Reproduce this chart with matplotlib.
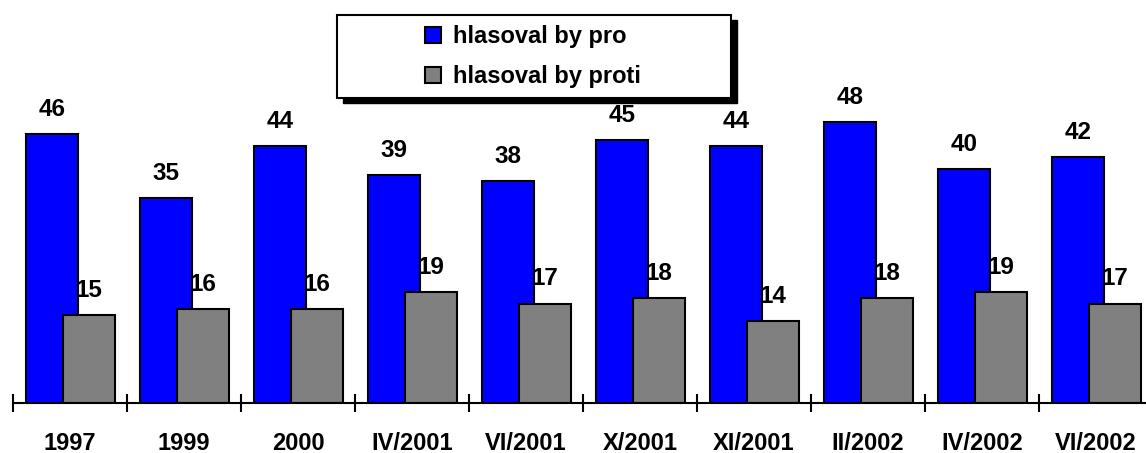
import matplotlib.pyplot as plt
from matplotlib.patches import Rectangle, Patch

plt.rcParams['font.family'] = ['Liberation Sans', 'DejaVu Sans']
plt.rcParams['font.weight'] = 'bold'

# data
categories = ['1997', '1999', '2000', 'IV/2001', 'VI/2001', 'X/2001',
              'XI/2001', 'II/2002', 'IV/2002', 'VI/2002']
pro = [46, 35, 44, 39, 38, 45, 44, 48, 40, 42]
proti = [15, 16, 16, 19, 17, 18, 14, 18, 19, 17]
series_names = ['hlasoval by pro', 'hlasoval by proti']

BLUE = '#0000FF'
GREY = '#808080'

W, H = 1146, 453
fig = plt.figure(figsize=(W / 100, H / 100), dpi=100)
# axis line at y=403 px, category ticks from x=13 px, 114 px per category
ax = fig.add_axes([13 / W, 1 - 403 / H, 1140 / W, 403 / H])

x = list(range(len(categories)))
bw = 0.456
ax.bar([i - 0.158 for i in x], pro, width=bw, color=BLUE,
       edgecolor='black', linewidth=1.5, zorder=2)
ax.bar([i + 0.167 for i in x], proti, width=bw, color=GREY,
       edgecolor='black', linewidth=1.5, zorder=3)

for i in x:
    ax.annotate(str(pro[i]), (i - 0.158, pro[i]), xytext=(0, 13),
                textcoords='offset points', ha='center', va='baseline',
                fontsize=17.5, fontweight='bold')
    ax.annotate(str(proti[i]), (i + 0.167, proti[i]), xytext=(0, 13),
                textcoords='offset points', ha='center', va='baseline',
                fontsize=17.5, fontweight='bold', zorder=4)

ax.set_xlim(-0.5, len(categories) - 0.5)
ax.set_ylim(0, 403 / 5.85)

for s in ['left', 'right', 'top']:
    ax.spines[s].set_visible(False)
ax.spines['bottom'].set_linewidth(1.5)
ax.spines['bottom'].set_zorder(5)
ax.set_yticks([])

# boundary ticks (major) and centred category labels (minor)
ax.set_xticks([i - 0.5 for i in range(len(categories) + 1)])
ax.set_xticklabels([''] * (len(categories) + 1))
ax.tick_params(axis='x', which='major', direction='inout', length=13,
               width=1.5)
ax.set_xticks(x, minor=True)
ax.set_xticklabels(categories, minor=True, fontsize=17, fontweight='bold')
ax.tick_params(axis='x', which='minor', length=0, pad=21)

# legend box with shadow
lx0, ly0, lx1, ly1 = 337, 15, 731, 98
shadow = Rectangle(((lx0 + 6) / W, 1 - (ly1 + 5) / H), (lx1 - lx0) / W,
                   (ly1 - ly0) / H, transform=fig.transFigure,
                   facecolor='black', edgecolor='black', zorder=1)
box = Rectangle((lx0 / W, 1 - ly1 / H), (lx1 - lx0) / W, (ly1 - ly0) / H,
                transform=fig.transFigure, facecolor='white',
                edgecolor='black', linewidth=1.5, zorder=2)
fig.patches.extend([shadow, box])

handles = [Patch(facecolor=BLUE, edgecolor='black', linewidth=1.5),
           Patch(facecolor=GREY, edgecolor='black', linewidth=1.5)]
leg = fig.legend(handles, series_names, loc='center',
                 bbox_to_anchor=((lx0 + lx1) / 2 / W - 1 / W,
                                 1 - (ly0 + ly1) / 2 / H),
                 frameon=False, handlelength=0.65,
                 handleheight=0.65, handletextpad=0.5, labelspacing=0.72,
                 prop={'weight': 'bold', 'size': 17})
leg.set_zorder(3)

fig.savefig('out.png', dpi=100)
